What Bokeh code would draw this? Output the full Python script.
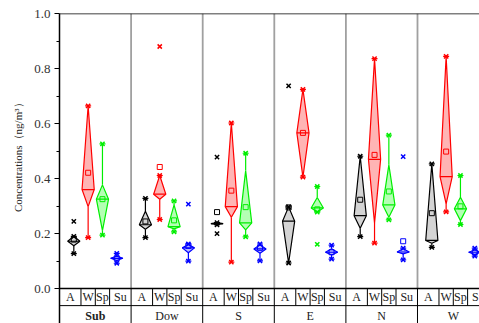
from bokeh.plotting import figure
from bokeh.models import Range1d, FixedTicker, PrintfTickFormatter, ColumnDataSource, Span
from bokeh.core.properties import value
from bokeh.embed import file_html
from bokeh.resources import INLINE

groups = ["Sub", "Dow", "S", "E", "N", "W"]
seasons = ["A", "W", "Sp", "Su"]

# statistics, indexed [group][season] with seasons A, W, Sp, Su
wmin = [[0.127, 0.185, 0.194, 0.092], [0.185, 0.251, 0.206, 0.100], [0.232, 0.096, 0.188, 0.101],
        [0.093, 0.405, 0.278, 0.107], [0.189, 0.165, 0.250, 0.104], [0.150, 0.279, 0.233, 0.118]]
q1 = [[0.156, 0.298, 0.211, 0.102], [0.216, 0.325, 0.217, 0.130], [0.233, 0.259, 0.213, 0.128],
      [0.093, 0.405, 0.278, 0.122], [0.219, 0.238, 0.259, 0.126], [0.165, 0.308, 0.247, 0.124]]
median = [[0.172, 0.360, 0.325, 0.110], [0.232, 0.343, 0.225, 0.148], [0.236, 0.298, 0.239, 0.144],
          [0.245, 0.566, 0.293, 0.132], [0.265, 0.470, 0.304, 0.133], [0.175, 0.407, 0.290, 0.132]]
q3 = [[0.190, 0.664, 0.377, 0.118], [0.281, 0.411, 0.304, 0.160], [0.240, 0.602, 0.429, 0.159],
      [0.297, 0.724, 0.331, 0.145], [0.481, 0.836, 0.450, 0.145], [0.453, 0.844, 0.332, 0.140]]
wmax = [[0.190, 0.664, 0.526, 0.128], [0.328, 0.411, 0.319, 0.162], [0.240, 0.602, 0.492, 0.162],
        [0.297, 0.724, 0.371, 0.158], [0.481, 0.836, 0.558, 0.147], [0.453, 0.844, 0.411, 0.147]]
mean = [[0.178, 0.421, 0.325, 0.110], [0.244, 0.442, 0.248, 0.155], [0.278, 0.356, 0.296, 0.148],
        [0.295, 0.566, 0.288, 0.132], [0.323, 0.486, 0.353, 0.172], [0.274, 0.498, 0.299, 0.132]]
# outliers: (group index, season index, value)
out_group = [0, 1, 1, 2, 2, 3, 3, 4]
out_season = [0, 1, 3, 0, 0, 0, 2, 3]
out_value = [0.244, 0.880, 0.307, 0.478, 0.200, 0.737, 0.161, 0.480]

line_colors = ["#000000", "#ff0000", "#00ee00", "#0000ff"]
fill_colors = ["#d4d4d4", "#ffb4b4", "#b4ffb4", "#b4b4ff"]
FONT = "Liberation Serif"
HW = 0.085

p = figure(width=479, height=323, output_backend="svg", toolbar_location=None,
           x_range=Range1d(0, 5.866), y_range=Range1d(-0.127, 1.0),
           x_axis_location=None, min_border_left=59, min_border_right=0,
           min_border_top=13, min_border_bottom=0)
p.outline_line_color = None
p.xgrid.visible = False
p.ygrid.visible = False

ax = p.yaxis[0]
ax.ticker = FixedTicker(ticks=[0.0, 0.2, 0.4, 0.6, 0.8, 1.0], minor_ticks=[0.1, 0.3, 0.5, 0.7, 0.9])
ax.formatter = PrintfTickFormatter(format="%.1f")
ax.axis_line_width = 1.5
ax.major_tick_in = 0
ax.major_tick_out = 5
ax.minor_tick_in = 0
ax.minor_tick_out = 3
ax.major_tick_line_width = 1.2
ax.major_label_standoff = 4
ax.major_label_text_font = FONT
ax.major_label_text_font_size = "13px"
ax.major_label_text_color = "#333333"
ax.axis_label = "\u2003\u2003\u2002Concentrations（ng/m³）"
ax.axis_label_text_font = FONT
ax.axis_label_text_font_size = "11px"
ax.axis_label_text_font_style = "normal"
ax.axis_label_text_color = "#222222"
ax.axis_label_standoff = 7

# group separators inside plot (gray) and in table (black)
ng = len(groups)
sep_x = list(range(1, ng))
p.segment(x0=sep_x, y0=[0] * len(sep_x), x1=sep_x, y1=[1.0] * len(sep_x), line_color="#a0a0a0", line_width=1.8)
p.segment(x0=sep_x, y0=[-0.127] * len(sep_x), x1=sep_x, y1=[0] * len(sep_x), line_color="#000000", line_width=1)
# season cell borders
cx = [g + f for g in range(ng) for f in (0.3, 0.5, 0.7)]
p.segment(x0=cx, y0=[-0.062] * len(cx), x1=cx, y1=[0] * len(cx), line_color="#000000", line_width=1)
p.add_layout(Span(location=0, dimension="width", line_color="#000000", line_width=1.5))
p.add_layout(Span(location=-0.062, dimension="width", line_color="#000000", line_width=1))
p.add_layout(Span(location=1.0, dimension="width", line_color="#000000", line_width=1.5))

# table text
lx, ly, lt = [], [], []
for g in range(ng):
    for s, f in enumerate((0.15, 0.4, 0.6, 0.85)):
        lx.append(g + f); ly.append(-0.031); lt.append(seasons[s])
p.text(x=lx, y=ly, text=lt, text_font=value(FONT), text_font_size="12px",
       text_align="center", text_baseline="middle", text_color="#222222")
gsrc = ColumnDataSource(dict(x=[g + 0.5 for g in range(ng)], y=[-0.101] * ng, t=groups,
                             st=["bold"] + ["normal"] * (ng - 1)))
p.text(x="x", y="y", text="t", source=gsrc, text_font=value(FONT), text_font_size="12px",
       text_font_style="st", text_align="center", text_baseline="middle", text_color="#222222")

# boxes
for s in range(4):
    xs, ys, bx, lo0, lo1, hi0, hi1, md, mn = [], [], [], [], [], [], [], [], []
    for g in range(ng):
        x = g + (s + 1) * 0.2
        xs.append([x, x + HW, x, x - HW])
        ys.append([q1[g][s], median[g][s], q3[g][s], median[g][s]])
        bx.append(x)
        lo0.append(wmin[g][s]); lo1.append(q1[g][s])
        hi0.append(q3[g][s]); hi1.append(wmax[g][s])
        md.append(median[g][s]); mn.append(mean[g][s])
    lc, fc = line_colors[s], fill_colors[s]
    p.segment(x0=bx, y0=lo0, x1=bx, y1=lo1, line_color=lc, line_width=1.2)
    p.segment(x0=bx, y0=hi0, x1=bx, y1=hi1, line_color=lc, line_width=1.2)
    p.patches(xs=xs, ys=ys, fill_color=fc, line_color=lc, line_width=1.2)
    p.segment(x0=[b - HW for b in bx], y0=md, x1=[b + HW for b in bx], y1=md, line_color=lc, line_width=1.2)
    p.scatter(x=bx, y=mn, marker="square", size=5, fill_color=None, line_color=lc, line_width=1)
    p.scatter(x=bx + bx, y=lo0 + hi1, marker="x", size=6, line_color=lc, line_width=1.5)
    p.scatter(x=bx + bx, y=lo0 + hi1, marker="dash", size=6, line_color=lc, line_width=1.2)

ox = [out_group[i] + (out_season[i] + 1) * 0.2 for i in range(len(out_value))]
oc = [line_colors[out_season[i]] for i in range(len(out_value))]
p.scatter(x=ox, y=out_value, marker="x", size=6, line_color=oc, line_width=1.5)

open("out.html", "w").write(file_html(p, INLINE))
